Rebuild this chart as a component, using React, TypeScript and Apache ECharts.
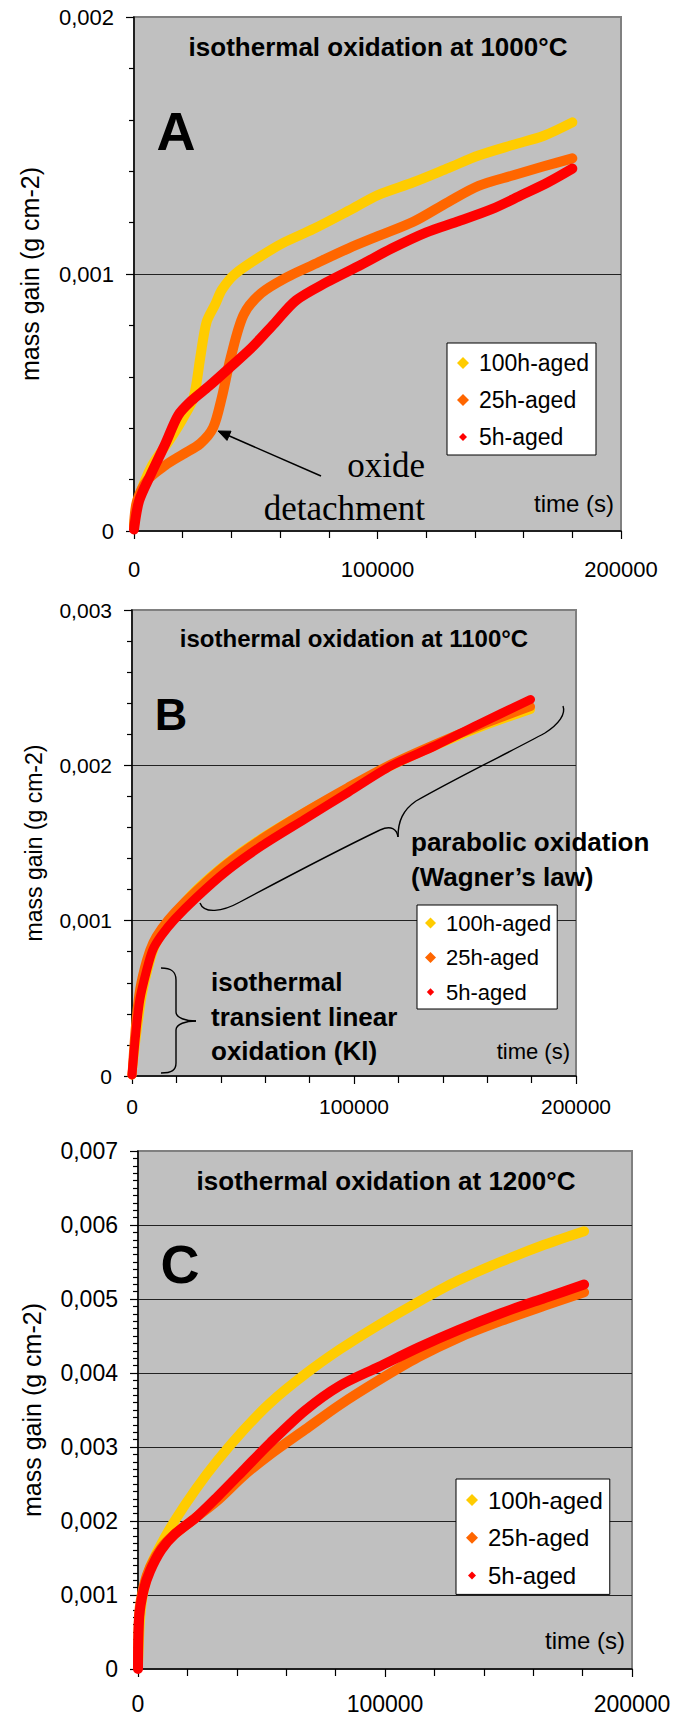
import React, { useEffect, useRef } from "react";
import * as echarts from "echarts";

// ---------- data ----------
const seriesNames = ["100h-aged", "25h-aged", "5h-aged"];
const seriesColors = ["#FFCC00", "#FF6600", "#FF0000"];
const panelTitles = [
  "isothermal oxidation at 1000°C",
  "isothermal oxidation at 1100°C",
  "isothermal oxidation at 1200°C",
];
const panelLetters = ["A", "B", "C"];
const yAxisMax = [0.002, 0.003, 0.007];
const xAxisMax = 200000;
const yAxisTitle = "mass gain (g cm-2)";
const xAxisTitle = "time (s)";

// Panel A : 1000°C
const tA100 = [0, 2100, 7500, 14600, 20000, 24500, 27200, 29800, 33400, 36100, 41500, 52200, 61100, 73600, 87900, 100400, 114700, 129000, 141500, 155800, 168300, 180000];
const vA100 = [0.00002, 0.00013, 0.000256, 0.000354, 0.000437, 0.00052, 0.000674, 0.000813, 0.000883, 0.000939, 0.001, 0.00107, 0.00112, 0.001175, 0.001245, 0.001308, 0.001357, 0.001412, 0.001461, 0.001503, 0.001538, 0.00159];
const tA25 = [0, 1250, 5700, 12900, 20000, 27200, 32500, 36100, 39700, 45000, 52200, 62900, 73600, 87900, 100400, 114700, 129000, 141500, 155800, 168300, 180000];
const vA25 = [0.00002, 0.000117, 0.0002, 0.000256, 0.000298, 0.00034, 0.000402, 0.000521, 0.000674, 0.000841, 0.000925, 0.000988, 0.001036, 0.001099, 0.001148, 0.001203, 0.00128, 0.001343, 0.001384, 0.001419, 0.00145];
const tA5 = [0, 2100, 6600, 12900, 18200, 23600, 30700, 39700, 48600, 57500, 66500, 79000, 93300, 105800, 120100, 132600, 146900, 159400, 170100, 180000];
const vA5 = [0.000006, 0.000117, 0.000214, 0.00034, 0.000451, 0.000507, 0.000563, 0.000639, 0.000716, 0.000806, 0.000897, 0.000967, 0.001036, 0.001099, 0.001162, 0.001203, 0.001252, 0.001308, 0.001357, 0.00141];

// Panel B : 1100°C
const tB100 = [0, 2000, 4500, 7400, 10400, 14300, 19200, 28900, 42600, 58300, 77800, 97400, 116900, 136500, 156000, 179500];
const vB100 = [0.000007, 0.00026, 0.000513, 0.000698, 0.000836, 0.000939, 0.001043, 0.0012, 0.00137, 0.001531, 0.001699, 0.001853, 0.001998, 0.002125, 0.00224, 0.00236];
const tB25 = [0, 1600, 3500, 6500, 9400, 13300, 19200, 28900, 42600, 58300, 77800, 97400, 116900, 136500, 156000, 179500];
const vB25 = [0.000007, 0.000329, 0.00056, 0.000744, 0.000859, 0.000951, 0.001054, 0.001193, 0.001365, 0.001526, 0.001699, 0.00186, 0.00201, 0.002137, 0.002252, 0.002378];
const tB5 = [0, 1600, 3500, 6500, 9400, 13300, 19200, 28900, 42600, 58300, 77800, 97400, 116900, 136500, 156000, 179500];
const vB5 = [0.000007, 0.00026, 0.00049, 0.000675, 0.000813, 0.000905, 0.001008, 0.001147, 0.001319, 0.00148, 0.001653, 0.001826, 0.001998, 0.002125, 0.002263, 0.002424];

// Panel C : 1200°C
const tC100 = [0, 900, 2300, 4900, 9400, 14700, 23500, 32300, 42900, 53500, 67600, 81700, 97600, 113500, 129400, 147000, 164700, 180600];
const vC100 = [0.000036, 0.000707, 0.001068, 0.001377, 0.001687, 0.001996, 0.002435, 0.002822, 0.003234, 0.003595, 0.003982, 0.004318, 0.004653, 0.004962, 0.005246, 0.005504, 0.005736, 0.005917];
const tC25 = [0, 500, 2300, 4900, 9400, 14700, 23500, 32300, 42900, 53500, 67600, 81700, 97600, 113500, 129400, 147000, 164700, 180600];
const vC25 = [0.000036, 0.000758, 0.001119, 0.001377, 0.001635, 0.001816, 0.002048, 0.00228, 0.002615, 0.002899, 0.003234, 0.00357, 0.003905, 0.004214, 0.004472, 0.004704, 0.004911, 0.005091];
const tC5 = [0, 500, 2300, 4900, 9400, 14700, 23500, 32300, 42900, 53500, 67600, 81700, 97600, 113500, 129400, 147000, 164700, 180600];
const vC5 = [0, 0.000707, 0.001068, 0.001326, 0.00161, 0.001816, 0.002048, 0.002332, 0.002693, 0.003054, 0.003492, 0.003828, 0.004085, 0.004343, 0.004576, 0.004808, 0.005014, 0.005195];

const panelTimes = [
  [tA100, tA25, tA5],
  [tB100, tB25, tB5],
  [tC100, tC25, tC5],
];
const panelValues = [
  [vA100, vA25, vA5],
  [vB100, vB25, vB5],
  [vC100, vC25, vC5],
];

// ---------- styling ----------
const FONT = "'Liberation Sans', Arial, Helvetica, sans-serif";
const SERIF = "'Liberation Serif', 'Times New Roman', serif";

const grids = [
  { left: 134, top: 17, width: 487, height: 514 },
  { left: 132, top: 610, width: 444, height: 466 },
  { left: 138, top: 1151, width: 494, height: 518 },
];
const yMinorSplit = [5, 5, 10];
const tickFont = [22, 21, 23];
const xLabelMargin = [27, 20, 23];
const yNameGap = [92, 87, 94];
const yNameFont = [25, 23, 25];
const lineWidths = [10, 9, 10];
const legendCfg = [
  { left: 447, top: 343, font: 23, lh: 26, gap: 11, pad: [7, 7, 5, 10], icon: 12 },
  { left: 417, top: 905, font: 22, lh: 24, gap: 10.5, pad: [6, 6, 5, 8], icon: 11 },
  { left: 456, top: 1479, font: 24, lh: 26, gap: 11.7, pad: [8, 7, 6, 10], icon: 12 },
];
const SMALL_DIAMOND = "path://M0,0M20,20M10,3.3L16.7,10L10,16.7L3.3,10Z";

function fmtY(v: number): string {
  if (Math.abs(v) < 1e-12) return "0";
  return v.toFixed(3).replace(".", ",");
}
function fmtX(v: number): string {
  return String(Math.round(v));
}

function buildOption(): any {
  const series: any[] = [];
  for (let p = 0; p < 3; p++) {
    for (let s = 0; s < 3; s++) {
      const t = panelTimes[p][s];
      const v = panelValues[p][s];
      series.push({
        type: "line",
        name: seriesNames[s],
        xAxisIndex: p,
        yAxisIndex: p,
        data: t.map((x, i) => [x, v[i]]),
        showSymbol: false,
        symbol: "none",
        smooth: 0.3,
        silent: true,
        itemStyle: { color: seriesColors[s] },
        lineStyle: { color: seriesColors[s], width: lineWidths[p], cap: "round", join: "round" },
        z: 2 + s,
      });
    }
  }

  const xAxis = [0, 1, 2].map((i) => ({
    type: "value",
    gridIndex: i,
    min: 0,
    max: xAxisMax,
    interval: 100000,
    axisLine: { show: true, onZero: false, lineStyle: { color: "#000", width: 1.5 } },
    axisTick: { show: true, length: 8, lineStyle: { color: "#000", width: 1.2 } },
    minorTick: { show: true, splitNumber: 5, length: 7, lineStyle: { color: "#000", width: 1.2 } },
    splitLine: { show: false },
    axisLabel: { fontSize: tickFont[i], color: "#000", fontFamily: FONT, margin: xLabelMargin[i], formatter: fmtX },
  }));

  const yAxis = [0, 1, 2].map((i) => ({
    type: "value",
    gridIndex: i,
    min: 0,
    max: yAxisMax[i],
    interval: 0.001,
    name: yAxisTitle,
    nameLocation: "middle",
    nameGap: yNameGap[i],
    nameTextStyle: { fontSize: yNameFont[i], color: "#000", fontFamily: FONT },
    axisLine: { show: true, onZero: false, lineStyle: { color: "#000", width: 1.5 } },
    axisTick: { show: true, length: 8, lineStyle: { color: "#000", width: 1.2 } },
    minorTick: { show: true, splitNumber: yMinorSplit[i], length: 5, lineStyle: { color: "#000", width: 1.2 } },
    splitLine: { show: true, showMinLine: false, showMaxLine: false, lineStyle: { color: "#222", width: 1 } },
    axisLabel: { fontSize: tickFont[i], color: "#000", fontFamily: FONT, margin: 20, formatter: fmtY },
  }));

  const legend = legendCfg.map((c) => ({
    data: seriesNames.map((n, i) => ({ name: n, icon: i === 2 ? SMALL_DIAMOND : "diamond" })),
    orient: "vertical",
    left: c.left,
    top: c.top,
    padding: c.pad,
    itemWidth: c.icon,
    itemHeight: c.icon,
    itemGap: c.gap,
    backgroundColor: "#fff",
    borderColor: "#000",
    borderWidth: 1,
    borderRadius: 0,
    selectedMode: false,
    textStyle: { fontSize: c.font, lineHeight: c.lh, color: "#000", fontFamily: FONT, padding: [0, 0, 0, 5] },
  }));

  const txt = (x: number, y: number, text: string, size: number, opts: any = {}) => ({
    type: "text",
    x,
    y,
    z: 20,
    silent: true,
    style: {
      text,
      fontSize: size,
      fontFamily: opts.family || FONT,
      fontWeight: opts.weight || "normal",
      fill: "#000",
      align: opts.align || "center",
      verticalAlign: "middle",
    },
  });
  const bz = (x1: number, y1: number, c1x: number, c1y: number, c2x: number, c2y: number, x2: number, y2: number) => ({
    type: "bezierCurve",
    z: 20,
    silent: true,
    shape: { x1, y1, cpx1: c1x, cpy1: c1y, cpx2: c2x, cpy2: c2y, x2, y2 },
    style: { stroke: "#000", lineWidth: 1.4, fill: "none" },
  });

  const graphic: any[] = [
    // titles
    txt(378, 47, panelTitles[0], 26, { weight: "bold" }),
    txt(354, 638, panelTitles[1], 24, { weight: "bold" }),
    txt(386, 1181, panelTitles[2], 26, { weight: "bold" }),
    // panel letters
    txt(176, 131, panelLetters[0], 54, { weight: "bold" }),
    txt(171, 714, panelLetters[1], 45, { weight: "bold" }),
    txt(180, 1264, panelLetters[2], 54, { weight: "bold" }),
    // x axis titles
    txt(614, 503, xAxisTitle, 24, { align: "right" }),
    txt(570, 1051, xAxisTitle, 22, { align: "right" }),
    txt(625, 1640, xAxisTitle, 24, { align: "right" }),
    // panel A annotation
    txt(425, 465, "oxide", 35, { family: SERIF, align: "right" }),
    txt(425, 508, "detachment", 35, { family: SERIF, align: "right" }),
    {
      type: "line",
      z: 20,
      silent: true,
      shape: { x1: 321, y1: 476, x2: 226, y2: 434.5 },
      style: { stroke: "#000", lineWidth: 1.5 },
    },
    {
      type: "polygon",
      z: 20,
      silent: true,
      shape: { points: [[218, 431], [231, 431.2], [227, 440.4]] },
      style: { fill: "#000", stroke: "#000", lineWidth: 1 },
    },
    // panel B annotations
    txt(411, 842, "parabolic oxidation", 26, { weight: "bold", align: "left" }),
    txt(411, 877, "(Wagner’s law)", 26, { weight: "bold", align: "left" }),
    txt(211, 982, "isothermal", 26, { weight: "bold", align: "left" }),
    txt(211, 1017, "transient linear", 26, { weight: "bold", align: "left" }),
    txt(211, 1051, "oxidation (Kl)", 26, { weight: "bold", align: "left" }),
    // parabolic brace
    bz(200, 903, 204, 914, 222, 912, 240, 902),
    bz(240, 902, 300, 870, 355, 842, 380, 830),
    bz(380, 830, 391, 825, 397, 829, 398, 837),
    bz(398, 837, 398, 821, 403, 810, 416, 801),
    bz(416, 801, 460, 776, 510, 752, 545, 733),
    bz(545, 733, 559, 724, 566, 714, 563, 706),
    // KI brace
    bz(161, 968, 172, 968, 176, 972, 176, 980),
    { type: "line", z: 20, silent: true, shape: { x1: 176, y1: 980, x2: 176, y2: 1012 }, style: { stroke: "#000", lineWidth: 1.4 } },
    bz(176, 1012, 176, 1018, 186, 1021, 196, 1021),
    bz(196, 1021, 186, 1021, 176, 1024, 176, 1030),
    { type: "line", z: 20, silent: true, shape: { x1: 176, y1: 1030, x2: 176, y2: 1063 }, style: { stroke: "#000", lineWidth: 1.4 } },
    bz(176, 1063, 176, 1070, 172, 1073, 161, 1073),
  ];

  return {
    animation: false,
    backgroundColor: "#fff",
    textStyle: { fontFamily: FONT },
    grid: grids.map((g) => ({
      ...g,
      show: true,
      backgroundColor: "#C0C0C0",
      borderColor: "#808080",
      borderWidth: 2,
      containLabel: false,
    })),
    xAxis,
    yAxis,
    legend,
    series,
    graphic,
  };
}

export default function App() {
  const ref = useRef<HTMLDivElement>(null);
  useEffect(() => {
    if (!ref.current) return;
    const chart = echarts.init(ref.current, undefined, { renderer: "svg" });
    chart.setOption(buildOption());
    return () => chart.dispose();
  }, []);
  return (
    <div
      ref={ref}
      style={{ position: "absolute", left: 0, top: 0, width: 682, height: 1718 }}
    />
  );
}
